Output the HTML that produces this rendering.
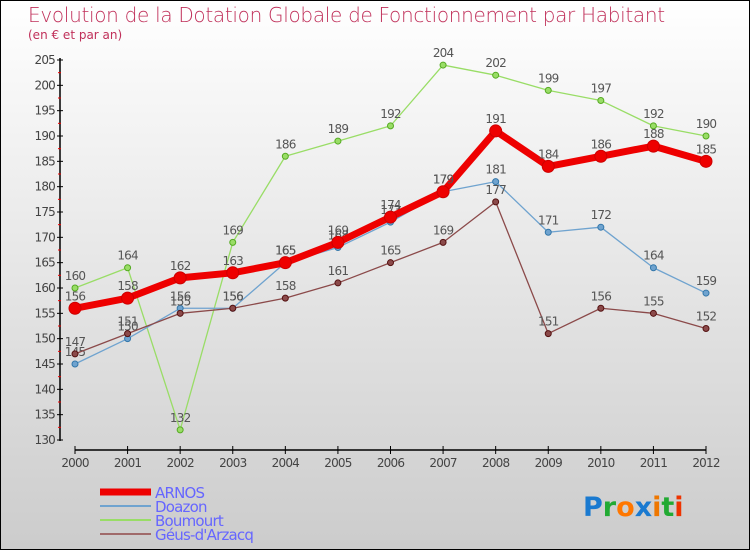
<!DOCTYPE html>
<html><head><meta charset="utf-8"><style>
body{margin:0}
#c{width:748px;height:548px;border:1px solid #000;background:linear-gradient(#fff,#cccccc);position:relative;font-family:"DejaVu Sans","Liberation Sans",sans-serif;overflow:hidden}
.t{position:absolute;left:27px;top:2px;font-size:20px;color:#c0305a;font-weight:300;letter-spacing:-0.3px}
.s{position:absolute;left:27px;top:27px;font-size:12px;color:#c0305a}
</style></head><body>
<div id="c">
<div class="t">Evolution de la Dotation Globale de Fonctionnement par Habitant</div>
<div class="s">(en € et par an)</div>
<svg id="g" width="750" height="550" style="position:absolute;left:-1px;top:-1px"></svg>
</div>
<script>
const years=[2000,2001,2002,2003,2004,2005,2006,2007,2008,2009,2010,2011,2012];
const arnos=[156,158,162,163,165,169,174,179,191,184,186,188,185];
const doazon=[145,150,156,156,165,168,173,179,181,171,172,164,159];
const boumourt=[160,164,132,169,186,189,192,204,202,199,197,192,190];
const geus=[147,151,155,156,158,161,165,169,177,151,156,155,152];
const yTicks=[130,135,140,145,150,155,160,165,170,175,180,185,190,195,200,205];
const NS="http://www.w3.org/2000/svg";
const svg=document.getElementById('g');
const X=i=>75+i*(706-75)/(years.length-1);
const Y=v=>440-(v-130)*(380/75);
function el(t,a,p){const e=document.createElementNS(NS,t);for(const k in a)e.setAttribute(k,a[k]);(p||svg).appendChild(e);return e;}
let ax=el('line',{x1:60,y1:58,x2:60,y2:441,stroke:'#000','stroke-width':1.5});


let xa=el('line',{x1:75,y1:450,x2:706,y2:450,stroke:'#000','stroke-width':1.5});


yTicks.forEach(v=>{
  el('line',{x1:57,y1:Y(v),x2:63,y2:Y(v),stroke:'#000'});
  if(v<205)el('line',{x1:58,y1:Y(v+2.5),x2:61,y2:Y(v+2.5),stroke:'#e00'});
  const t=el('text',{x:55,y:Y(v)+4,'text-anchor':'end','font-size':12,fill:'#444','letter-spacing':'-0.8'});
  t.textContent=v;
  
  
});
years.forEach((yr,i)=>{
  el('line',{x1:X(i),y1:446,x2:X(i),y2:454,stroke:'#000'});
  const t=el('text',{x:X(i),y:467,'text-anchor':'middle','font-size':12,fill:'#444','letter-spacing':'-0.8'});
  t.textContent=yr;
  
  
});
function series(data,color,w,r,name,dark){
  const g=el('g',{});
  
  
  el('polyline',{points:data.map((v,i)=>X(i)+','+Y(v)).join(' '),fill:'none',stroke:color,'stroke-width':w,'stroke-linejoin':'round'},g);
  data.forEach((v,i)=>{
    const c=el('circle',{cx:X(i),cy:Y(v),r:r,fill:color,stroke:dark,'stroke-width':1},g);
    
    
    const t=el('text',{x:X(i),y:Y(v)-8,'text-anchor':'middle','font-size':12,fill:'#555','letter-spacing':'-0.8'},g);
    t.textContent=v;
    
    
  });
}
series(boumourt,'#99dd66',1.3,3,'boumourt','#55aa22');
series(doazon,'#6fa3cf',1.3,3,'doazon','#3377aa');
series(geus,'#8b4a4a',1.3,3,'geus','#551111');
series(arnos,'#ee0000',7,6,'arnos','#cc0000');
const leg=[['ARNOS','#ee0000',7],['Doazon','#6fa3cf',2],['Boumourt','#99dd66',2],['Géus-d\'Arzacq','#a06a6a',2]];
const legY=[492,506,520,534];
leg.forEach((l,i)=>{
  const yy=legY[i];
  el('line',{x1:100,y1:yy,x2:151,y2:yy,stroke:l[1],'stroke-width':l[2]});
  const t=el('text',{x:155,y:yy+6,'font-size':15,fill:'#6666ff','letter-spacing':'-0.8'});
  t.textContent=l[0];
  
  
});
const lg=el('text',{x:583,y:516,'font-size':27,'font-family':'DejaVu Sans, sans-serif','font-weight':'bold'});


[['P','#1a7ad0'],['r','#22aa33'],['o','#ff7700'],['x','#1a7ad0'],['i','#ee7700'],['t','#22aa33'],['i','#ee3300']].forEach(p=>{const s=el('tspan',{fill:p[1]},lg);s.textContent=p[0];});
</script>
</body></html>
